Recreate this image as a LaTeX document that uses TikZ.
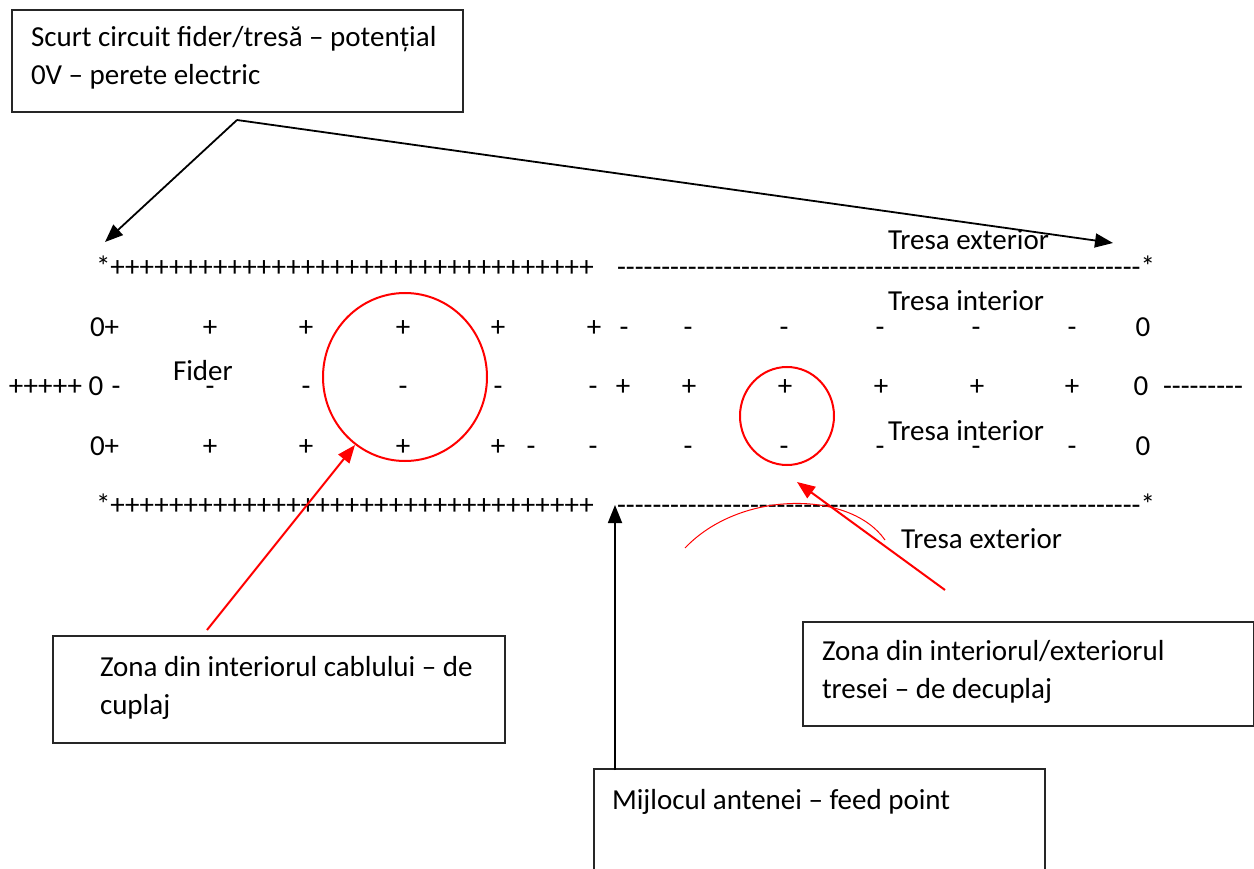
\documentclass[tikz,border=0pt]{standalone}
\usepackage{fontspec}
\setmainfont{Carlito}[Ligatures=TeXOff]
\usetikzlibrary{arrows.meta,shapes.geometric}
\begin{document}
\begin{tikzpicture}[x=1pt,y=-1pt,
  every node/.style={inner sep=0pt, outer sep=0pt, font=\fontsize{29}{38}\selectfont},
  box/.style={draw=black!85, line width=1.3pt, anchor=north west},
  txt/.style={anchor=base west},
  ch/.style={anchor=base},
  blk/.style={line width=1.8pt, -{Triangle[length=18pt,width=14pt]}},
  redarr/.style={draw=red, line width=2pt, -{Triangle[length=18pt,width=14pt]}},
  redring/.style={draw=red, line width=2pt, ellipse}
]
\useasboundingbox (0,0) rectangle (1254,869);

% boxes
\node[box, minimum width=451pt, minimum height=102pt] (b1) at (12,10) {};
\node[txt] (t1a) at (31,47) {Scurt circuit fider/tresă – potențial};
\node[txt] (t1b) at (31,85) {0V – perete electric};

\node[box, minimum width=452pt, minimum height=107pt] (b2) at (53,636) {};
\node[txt] (t2a) at (100,676) {Zona din interiorul cablului – de};
\node[txt] (t2b) at (100,714) {cuplaj};

\node[box, minimum width=451pt, minimum height=104pt] (b3) at (803,622) {};
\node[txt] (t3a) at (822,660) {Zona din interiorul/exteriorul};
\node[txt] (t3b) at (822,698) {tresei – de decuplaj};

\coordinate (b4bl) at (594,869);
\coordinate (b4tl) at (594,769);
\coordinate (b4tr) at (1045,769);
\coordinate (b4br) at (1045,869);
\draw[draw=black!85, line width=1.3pt] (b4bl) -- (b4tl) -- (b4tr) -- (b4br);
\node[txt] (t4) at (612,809) {Mijlocul antenei – feed point};

% top and bottom rows
\node[txt] (topL) at (96,277) {*+++++++++++++++++++++++++++++++++};
\node[txt] (topR) at (617,277) {-----------------------------------------------------------*};
\node[txt] (botL) at (96,514) {*+++++++++++++++++++++++++++++++++};
\node[txt] (botR) at (617,514) {-----------------------------------------------------------*};

% labels
\node[txt] (te1) at (888,250) {Tresa exterior};
\node[txt] (ti1) at (888,311) {Tresa interior};
\node[txt] (ti2) at (888,440) {Tresa interior};
\node[txt] (te2) at (901,548) {Tresa exterior};
\node[txt] (fid) at (173,380) {Fider};

% row 1
\node[txt] (r1a) at (90,337) {0+};
\foreach \x/\c [count=\i] in {210/+,306/+,403/+,498/+,594/+,624/-,688/-,784/-,880/-,976/-,1072/-,1143/0}
  \node[ch] (r1c\i) at (\x,337) {\c};
% row 2
\node[anchor=base east] (r2a) at (82,395) {+++++};
\foreach \x/\c [count=\i] in {96/0,116/-,210/-,306/-,403/-,498/-,593/-,623/+,689/+,785/+,881/+,977/+,1072/+,1141/0}
  \node[ch] (r2c\i) at (\x,395) {\c};
\node[txt] (r2z) at (1163,395) {---------};
% row 3
\node[txt] (r3a) at (90,455) {0+};
\foreach \x/\c [count=\i] in {210/+,306/+,403/+,498/+,531/-,593/-,688/-,784/-,880/-,976/-,1072/-,1143/0}
  \node[ch] (r3c\i) at (\x,455) {\c};

% red rings
\node[redring, minimum width=164pt, minimum height=168pt] (ring1) at (405,377) {};
\node[redring, minimum width=94pt, minimum height=98pt] (ring2) at (787,416) {};

% black arrows
\coordinate (src) at (237,120);
\coordinate (starL) at (105,242);
\coordinate (starR) at (1113,243);
\draw[blk] (src) -- (starL);
\draw[blk] (src) -- (starR);
\coordinate (feed) at (615,505);
\coordinate (feedsrc) at (615,770);
\draw[blk] (feedsrc) -- (feed);

% red arrows
\coordinate (ra1s) at (207,630);
\coordinate (ra1e) at (355,445);
\draw[redarr] (ra1s) -- (ra1e);
\coordinate (ra2s) at (945,590);
\coordinate (ra2e) at (797,482);
\draw[redarr] (ra2s) -- (ra2e);

% thin red arc
\coordinate (arcS) at (685,548);
\coordinate (arcE) at (885,540);
\draw[red, line width=1pt] (arcS) .. controls (740,490) and (850,490) .. (arcE);
\end{tikzpicture}
\end{document}
